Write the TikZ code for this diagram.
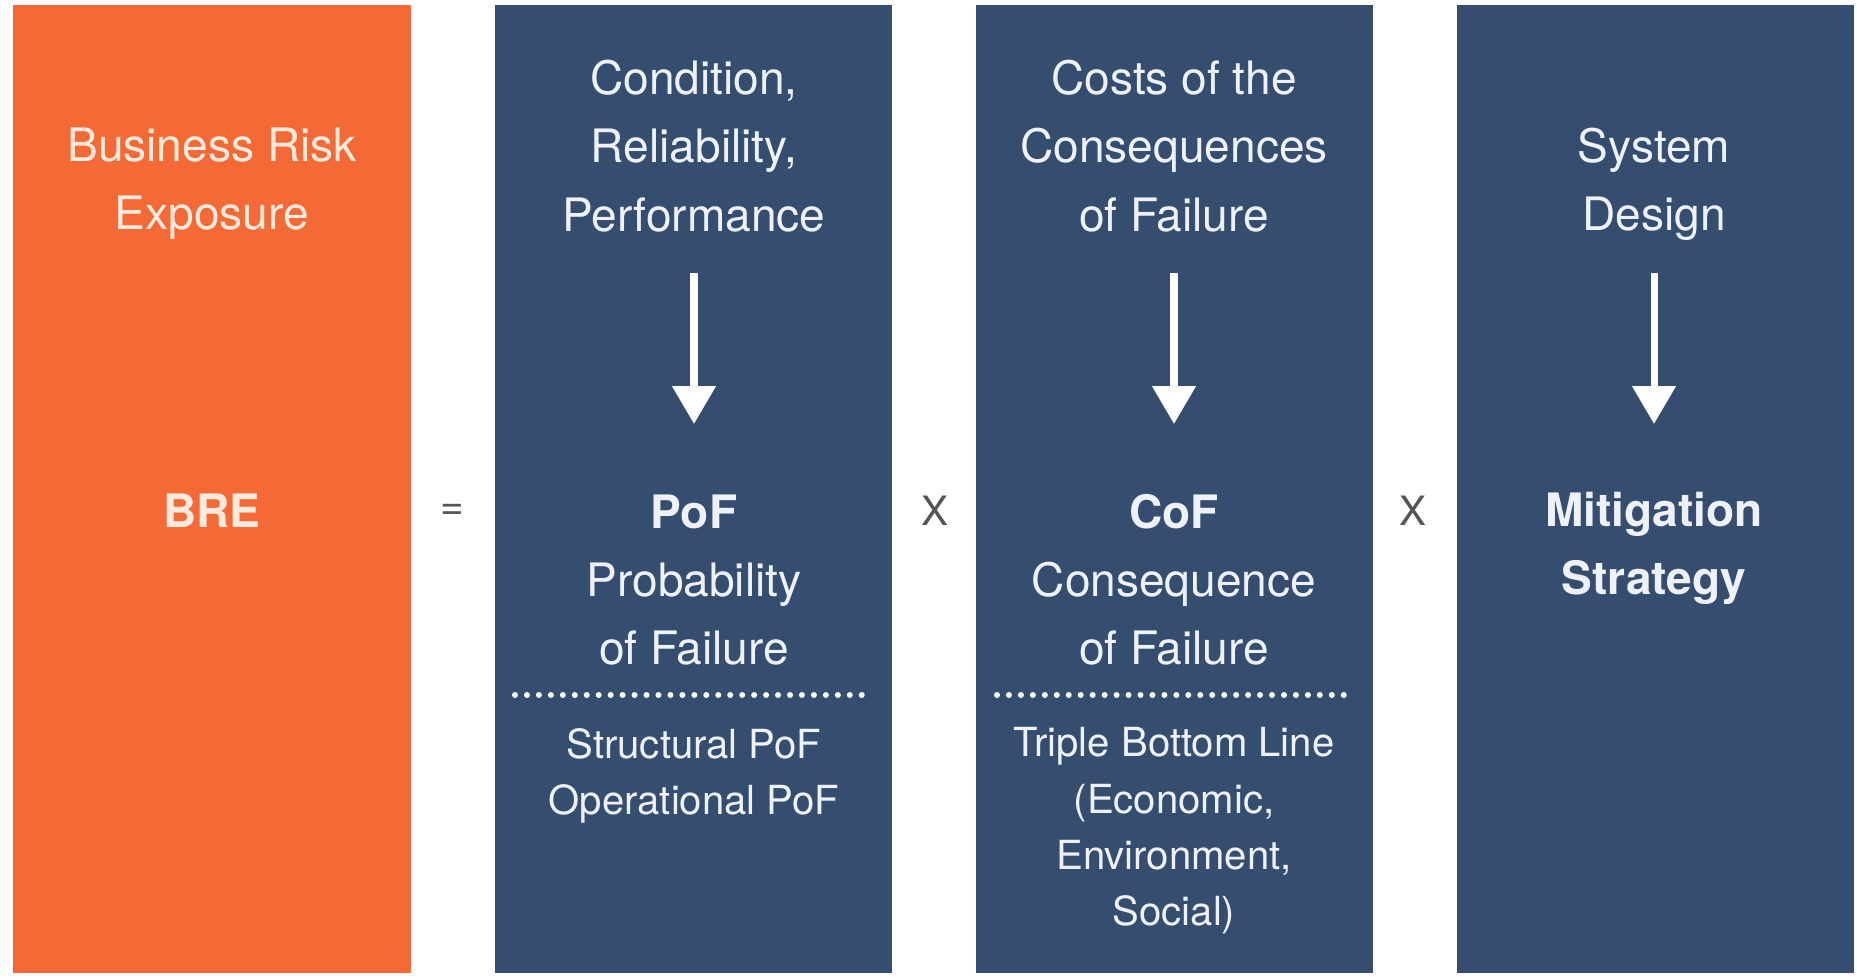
\documentclass[tikz,border=0pt]{standalone}
\usepackage{fontspec}
\setmainfont{TeX Gyre Heros}
\usepackage{tikz}
\usetikzlibrary{arrows.meta, positioning}
\definecolor{breorange}{RGB}{244,106,54}
\definecolor{riskblue}{RGB}{53,78,111}
\definecolor{cream}{RGB}{253,234,222}
\definecolor{paleblue}{RGB}{238,241,247}
\definecolor{signgray}{RGB}{85,85,85}
\tikzstyle{column} = [rectangle, inner sep=0pt, minimum width=3.97cm, minimum height=9.68cm]
\tikzstyle{maintext} = [text=paleblue, align=center, inner sep=0pt, font=\fontsize{13.1}{19.4}\selectfont]
\tikzstyle{subtext} = [text=paleblue, align=center, inner sep=0pt, font=\fontsize{11.4}{16}\selectfont]
\tikzstyle{sign} = [text=signgray, inner sep=0pt, font=\fontsize{11.5}{13}\selectfont]
\tikzstyle{flow} = [draw=white, line width=2pt, -{Triangle[width=12pt, length=10.8pt]}]
\tikzstyle{divider} = [draw=white, line width=1.7pt, line cap=round, dash pattern=on 0pt off 3.4pt]

\begin{document}
\begin{tikzpicture}[x=0.01cm, y=-0.01cm, node distance=4.81cm]
        \useasboundingbox[fill=white] (0,0) rectangle (1857,979);
        % the four columns
        \node[column, fill=breorange] (bre) at (212,489) {};
        \node[column, fill=riskblue, right of = bre] (pof) {};
        \node[column, fill=riskblue, right of = pof] (cof) {};
        \node[column, fill=riskblue, right of = cof] (mit) {};
        % headings
        \node[maintext, text=cream] (brehead) at (212,184) {Business Risk\\Exposure};
        \node[maintext] (pofhead) at (694,146) {Condition,\\Reliability,\\Performance};
        \node[maintext] (cofhead) at (1174,146) {Costs of the\\Consequences\\of Failure};
        \node[maintext] (mithead) at (1654,184) {System\\Design};
        % arrows
        \coordinate (poftop) at (694,273);
        \coordinate (poftip) at (694,424);
        \coordinate (coftop) at (1174,273);
        \coordinate (coftip) at (1174,424);
        \coordinate (mittop) at (1654,273);
        \coordinate (mittip) at (1654,424);
        \draw[flow] (poftop) -- (poftip);
        \draw[flow] (coftop) -- (coftip);
        \draw[flow] (mittop) -- (mittip);
        % terms
        \node[maintext, text=cream, font=\fontsize{13.1}{19.4}\selectfont\bfseries] (bremain) at (212,511) {BRE};
        \node[maintext] (pofmain) at (694,580) {\textbf{PoF}\\Probability\\of Failure};
        \node[maintext] (cofmain) at (1174,580) {\textbf{CoF}\\Consequence\\of Failure};
        \node[maintext, font=\fontsize{13.1}{19.4}\selectfont\bfseries] (mitmain) at (1654,548) {Mitigation\\Strategy};
        \node[sign] (equals) at (452,512) {=};
        \node[sign] (times1) at (935,511) {X};
        \node[sign] (times2) at (1413,511) {X};
        % details
        \coordinate (pofl) at (515,695);
        \coordinate (pofr) at (870,695);
        \coordinate (cofl) at (997,695);
        \coordinate (cofr) at (1350,695);
        \draw[divider] (pofl) -- (pofr);
        \draw[divider] (cofl) -- (cofr);
        \node[subtext] (pofsub) at (694,776) {Structural PoF\\Operational PoF};
        \node[subtext] (cofsub) at (1174,831) {Triple Bottom Line\\(Economic,\\Environment,\\Social)};
    \end{tikzpicture}
\end{document}
